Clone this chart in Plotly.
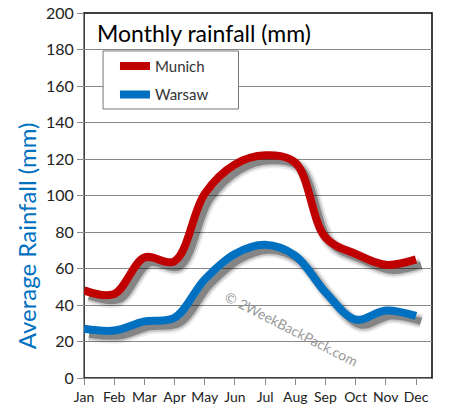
import plotly.graph_objects as go

months = ["Jan", "Feb", "Mar", "Apr", "May", "Jun", "Jul", "Aug", "Sep", "Oct", "Nov", "Dec"]
munich = [48, 46, 66, 64, 101, 117, 122, 118, 77, 68, 62, 65]
warsaw = [27, 26, 31, 33, 54, 68, 73, 67, 47, 32, 37, 34]
y_ticks = [0, 20, 40, 60, 80, 100, 120, 140, 160, 180, 200]

xs = list(range(len(months)))
FONT = "Lato"

fig = go.Figure()

# drop shadows (same data, offset down/right)
sdx, sdy = 0.17, -3.0
for series in (munich, warsaw):
    for w, c in ((15, "rgba(0,0,0,0.07)"), (11, "rgba(0,0,0,0.16)"), (7, "rgba(0,0,0,0.33)")):
        fig.add_trace(go.Scatter(
            x=[x + sdx for x in xs], y=[v + sdy for v in series],
            mode="lines", line=dict(color=c, width=w, shape="spline"),
            showlegend=False, hoverinfo="skip"))

fig.add_trace(go.Scatter(x=xs, y=munich, name="Munich", mode="lines", legendgroup="m",
                         line=dict(color="#C00000", width=8, shape="spline")))
fig.add_trace(go.Scatter(x=xs, y=warsaw, name="Warsaw", mode="lines", legendgroup="w",
                         line=dict(color="#0070C0", width=8, shape="spline")))

fig.update_layout(
    width=451, height=418,
    margin=dict(l=84, r=19, t=13, b=40, autoexpand=False),
    paper_bgcolor="white", plot_bgcolor="white",
    font=dict(family=FONT, color="#222"),
    showlegend=True,
    legend=dict(x=0.089, y=0.899, xanchor="left", yanchor="top",
                bgcolor="rgba(0,0,0,0)", borderwidth=0,
                font=dict(size=15, color="#333", family=FONT),
                itemwidth=30, tracegroupgap=6),
    xaxis=dict(range=[0, 11.53], tickmode="array", tickvals=xs, ticktext=months,
               showgrid=False, zeroline=False, showline=True, linecolor="#888",
               linewidth=1, ticks="outside", ticklen=6, tickcolor="#888", automargin=False,
               tickfont=dict(size=14, color="#222", family=FONT), fixedrange=True),
    yaxis=dict(range=[0, 200], tickmode="array", tickvals=y_ticks,
               showgrid=True, gridcolor="#888", gridwidth=1, zeroline=False,
               showline=True, linecolor="#888", linewidth=1, automargin=False,
               ticks="outside", ticklen=6, tickcolor="#888",
               tickfont=dict(size=16, color="#222", family=FONT), fixedrange=True),
    shapes=[
        dict(type="rect", xref="x domain", yref="y domain", x0=0, x1=1, y0=0, y1=1,
             line=dict(color="black", width=1.5), layer="below"),
        dict(type="rect", xref="paper", yref="paper", x0=0.0548, x1=0.444, y0=0.737, y1=0.896,
             line=dict(color="#777", width=1), fillcolor="white", layer="above"),
    ],
    annotations=[
        dict(text="Monthly rainfall (mm)", xref="paper", yref="paper", x=0.033, y=0.945,
             xanchor="left", yanchor="middle", showarrow=False,
             font=dict(size=23, color="black", family=FONT)),
        dict(text="Average Rainfall (mm)", xref="paper", yref="paper", x=-0.165, y=0.39,
             xanchor="center", yanchor="middle", textangle=-90, showarrow=False,
             font=dict(size=24, color="#0070C0", family=FONT)),
        dict(text="© 2WeekBackPack.com", xref="paper", yref="paper", x=0.595, y=0.135,
             xanchor="center", yanchor="middle", textangle=27, showarrow=False,
             font=dict(size=14, color="#999", family=FONT)),
    ],
)

fig.write_html("out.html", config={"displayModeBar": False},
               post_script="document.body.style.margin='0';document.body.style.overflow='hidden';")
